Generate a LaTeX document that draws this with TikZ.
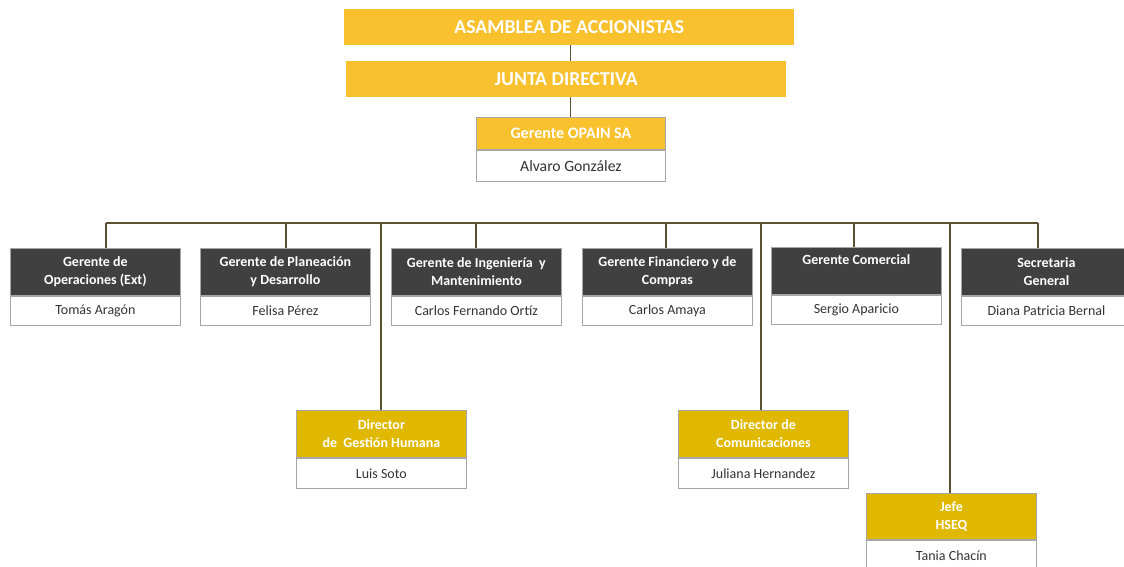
\documentclass[tikz,border=0pt]{standalone}
\usepackage{fontspec}
\setmainfont{Carlito}
\definecolor{gold}{HTML}{F9C12E}
\definecolor{dgold}{HTML}{E0B800}
\definecolor{darkbox}{HTML}{404040}
\definecolor{bord}{HTML}{A6A6A6}
\definecolor{connc}{HTML}{5B5232}
\definecolor{nametxt}{HTML}{333333}
\begin{document}
\begin{tikzpicture}[x=1pt,y=-1pt,
  banner/.style={fill=gold, text=white, font=\fontsize{19.7}{23}\selectfont\bfseries, inner sep=0pt, anchor=north west, minimum height=36pt},
  ttl/.style={draw=bord, line width=0.8pt, fill=darkbox, text=white, font=\fontsize{14}{18}\selectfont\bfseries, align=center, minimum width=170pt, minimum height=47pt, inner sep=0pt, anchor=north west},
  dirttl/.style={ttl, fill=dgold},
  nm/.style={draw=bord, line width=1pt, fill=white, text=nametxt, font=\fontsize{14}{17}\selectfont, minimum width=170pt, minimum height=29pt, inner sep=0pt, anchor=north},
  conn/.style={draw=connc, line width=1.1pt}
]
\useasboundingbox (0,0) rectangle (1124,567);
\clip (0,0) rectangle (1124,567);

% top banners
\node[banner, minimum width=450pt] (asamblea) at (344,9) {ASAMBLEA DE ACCIONISTAS};
\node[banner, minimum width=440pt] (junta) at (346,61) {JUNTA DIRECTIVA};

% gerente OPAIN
\node[ttl, fill=gold, minimum width=189pt, minimum height=32pt, font=\fontsize{16}{18}\selectfont\bfseries] (gop) at (476,117) {Gerente OPAIN SA};
\node[nm, minimum width=189pt, minimum height=31pt, font=\fontsize{15.7}{18}\selectfont] (gopn) at (gop.south) {Alvaro González};

\draw[conn] (gop.north |- asamblea.south) -- (gop.north |- junta.north);
\draw[conn] (gop.north |- junta.south) -- (gop.north);

% first row
\node[ttl] (ops) at (10,248) {Gerente de\\Operaciones (Ext)};
\node[nm] (opsn) at (ops.south) {Tomás Aragón};
\node[ttl] (plan) at (200,248) {Gerente de Planeación\\y Desarrollo};
\node[nm] (plann) at (plan.south) {Felisa Pérez};
\node[ttl] (ing) at (391,248) {Gerente de Ingeniería~ y\\Mantenimiento};
\node[nm] (ingn) at (ing.south) {Carlos Fernando Ortíz};
\node[ttl] (fin) at (582,248) {Gerente Financiero y de\\Compras};
\node[nm] (finn) at (fin.south) {Carlos Amaya};
\node[ttl] (com) at (771,247) {Gerente Comercial\\\strut};
\node[nm] (comn) at (com.south) {Sergio Aparicio};
\node[ttl] (sec) at (961,248) {Secretaria\\General};
\node[nm] (secn) at (sec.south) {Diana Patricia Bernal};

% directors
\node[dirttl] (dgh) at (296,410) {Director\\de~ Gestión Humana};
\node[nm, minimum height=30pt] (dghn) at (dgh.south) {Luis Soto};
\node[dirttl] (dcom) at (678,410) {Director de\\Comunicaciones};
\node[nm, minimum height=30pt] (dcomn) at (dcom.south) {Juliana Hernandez};
\node[dirttl, minimum height=46pt] (hseq) at (866,493) {Jefe\\HSEQ};
\node[nm, minimum height=30pt] (hseqn) at (hseq.south) {Tania Chacín};

% bus
\coordinate (b1) at (106,223);
\coordinate (b2) at (286,223);
\coordinate (b3) at (476,223);
\coordinate (b4) at (666,223);
\coordinate (b5) at (854,223);
\coordinate (b6) at (1038,223);
\coordinate (v1) at (381,223);
\coordinate (v2) at (761,223);
\coordinate (v3) at (950,223);
\draw[conn] (b1) -- (b6);
\draw[conn] (b1) -- (b1 |- ops.north);
\draw[conn] (b2) -- (b2 |- plan.north);
\draw[conn] (b3) -- (b3 |- ing.north);
\draw[conn] (b4) -- (b4 |- fin.north);
\draw[conn] (b5) -- (b5 |- com.north);
\draw[conn] (b6) -- (b6 |- sec.north);
\draw[conn] (v1) -- (v1 |- dgh.north);
\draw[conn] (v2) -- (v2 |- dcom.north);
\draw[conn] (v3) -- (v3 |- hseq.north);
\end{tikzpicture}
\end{document}
